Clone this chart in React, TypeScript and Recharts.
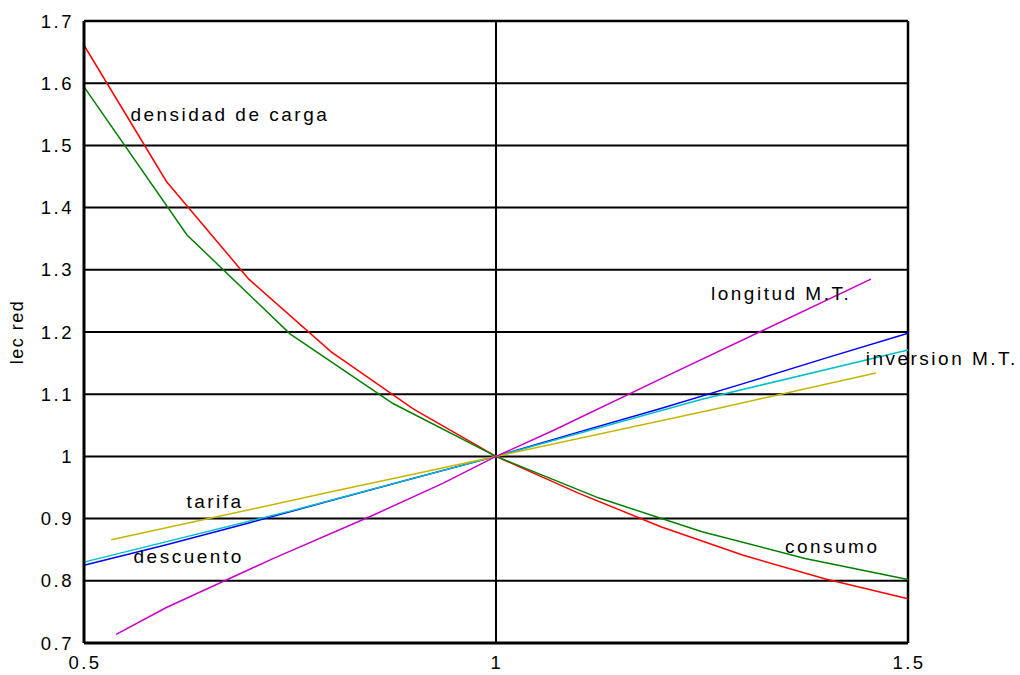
import { LineChart, Line, XAxis, YAxis, CartesianGrid, ReferenceLine, ReferenceDot } from "recharts";

// x values and series
const densidadX = [0.5, 0.6, 0.7, 0.8, 0.9, 1.0, 1.1, 1.2, 1.3, 1.4, 1.5];
const densidadY = [1.661, 1.442, 1.285, 1.168, 1.076, 1.0, 0.941, 0.887, 0.841, 0.803, 0.771];

const consumoX = [0.5, 0.625, 0.75, 0.875, 1.0, 1.125, 1.25, 1.375, 1.5];
const consumoY = [1.594, 1.356, 1.197, 1.085, 1.0, 0.933, 0.879, 0.836, 0.802];

const descuentoX = [0.5, 0.6, 0.7, 0.8, 0.9, 1.0, 1.1, 1.2, 1.3, 1.4, 1.5];
const descuentoY = [0.825, 0.858, 0.893, 0.929, 0.965, 1.0, 1.039, 1.077, 1.117, 1.158, 1.198];

const inversionX = [0.5, 0.75, 1.0, 1.25, 1.5];
const inversionY = [0.83, 0.912, 1.0, 1.092, 1.171];

const tarifaX = [0.533, 0.8, 1.0, 1.262, 1.461];
const tarifaY = [0.866, 0.943, 1.0, 1.075, 1.134];

const longitudX = [0.539, 0.6, 0.73, 0.85, 0.936, 1.0, 1.07, 1.21, 1.455];
const longitudY = [0.714, 0.757, 0.836, 0.905, 0.957, 1.0, 1.042, 1.131, 1.285];

const yTicks = [0.7, 0.8, 0.9, 1, 1.1, 1.2, 1.3, 1.4, 1.5, 1.6, 1.7];
const xTicks = [0.5, 1, 1.5];

const labels = [
  { text: "densidad de carga", x: 0.677, y: 1.55 },
  { text: "tarifa", x: 0.659, y: 0.928 },
  { text: "descuento", x: 0.627, y: 0.84 },
  { text: "longitud M.T.", x: 1.346, y: 1.263 },
  { text: "inversion M.T.", x: 1.541, y: 1.158 },
  { text: "consumo", x: 1.408, y: 0.856 },
];

const toPoints = (xs: number[], ys: number[]) => xs.map((x, i) => ({ x, y: ys[i] }));

const series = [
  { name: "densidad", color: "#ff0000", data: toPoints(densidadX, densidadY) },
  { name: "consumo", color: "#008000", data: toPoints(consumoX, consumoY) },
  { name: "descuento", color: "#0000ff", data: toPoints(descuentoX, descuentoY) },
  { name: "inversion", color: "#00c0c8", data: toPoints(inversionX, inversionY) },
  { name: "tarifa", color: "#c8b400", data: toPoints(tarifaX, tarifaY) },
  { name: "longitud", color: "#c800c8", data: toPoints(longitudX, longitudY) },
];

const font = "Liberation Sans, Arial, sans-serif";

function YTick(props: any) {
  const { x, y, payload } = props;
  return (
    <text x={x - 2} y={y + 6.5} textAnchor="end" fontSize={18.5} letterSpacing={2.5} fontFamily={font} fill="#000">
      {payload.value}
    </text>
  );
}

function XTick(props: any) {
  const { x, y, payload } = props;
  return (
    <text x={x + 1} y={y + 13} textAnchor="middle" fontSize={18.5} letterSpacing={2.5} fontFamily={font} fill="#000">
      {payload.value}
    </text>
  );
}

export default function App() {
  return (
    <div style={{ position: "absolute", left: 0, top: 0, width: 1020, height: 675, background: "#fff" }}>
      <LineChart width={1020} height={675} margin={{ top: 21, right: 112, bottom: 2, left: 0 }}>
        <CartesianGrid vertical={false} stroke="#000" strokeWidth={2} horizontalValues={yTicks} />
        <XAxis
          dataKey="x"
          type="number"
          domain={[0.5, 1.5]}
          ticks={xTicks}
          height={30}
          allowDuplicatedCategory={false}
          stroke="#000"
          strokeWidth={3}
          tickLine={false}
          tickSize={6}
          tickMargin={7}
          tick={<XTick />}
        />
        <YAxis
          dataKey="y"
          type="number"
          domain={[0.7, 1.7]}
          ticks={yTicks}
          width={84}
          stroke="#000"
          strokeWidth={3}
          tickLine={false}
          tickSize={6}
          tickMargin={2}
          tick={<YTick />}
          label={{ value: "lec red", angle: -90, position: "insideLeft", offset: 17, fontSize: 18, letterSpacing: 1.5, fontFamily: font, fill: "#000", textAnchor: "middle" }}
        />
        <ReferenceLine x={1} stroke="#000" strokeWidth={2} />
        <ReferenceLine x={1.5} stroke="#000" strokeWidth={2.5} />
        <ReferenceLine y={1.7} stroke="#000" strokeWidth={2.5} />
        {series.map((s) => (
          <Line
            key={s.name}
            data={s.data}
            dataKey="y"
            type="linear"
            stroke={s.color}
            strokeWidth={1.5}
            dot={false}
            activeDot={false}
            isAnimationActive={false}
          />
        ))}
        {labels.map((l) => (
          <ReferenceDot
            key={l.text}
            x={l.x}
            y={l.y}
            r={0}
            fill="none"
            stroke="none"
            ifOverflow="visible"
            label={{ value: l.text, position: "center", fontSize: 19, letterSpacing: 2.5, fontFamily: font, fill: "#000" }}
          />
        ))}
      </LineChart>
    </div>
  );
}
